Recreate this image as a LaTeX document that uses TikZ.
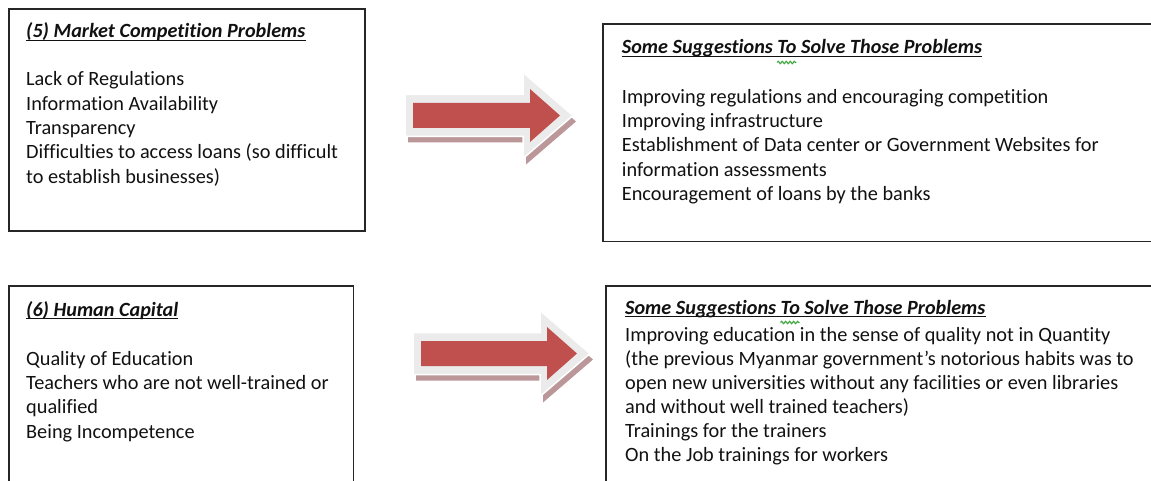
\documentclass[tikz,border=0pt]{standalone}
\usepackage{fontspec}
\setmainfont{Carlito}[Ligatures=NoCommon]
\usetikzlibrary{decorations.pathmorphing}

\definecolor{arrowred}{HTML}{C0504D}
\definecolor{arrowrim}{HTML}{EBEBEB}
\definecolor{arrowshadow}{HTML}{BC9799}
\definecolor{boxline}{HTML}{262626}
\definecolor{inktext}{HTML}{111111}
\definecolor{grammarmark}{HTML}{3FA83F}

\newcommand\headfont{\fontsize{20.2}{24.4}\selectfont\bfseries\itshape}
\newcommand\bodyfont{\fontsize{20.3}{24.4}\selectfont}
\newcommand\tightbodyfont{\fontsize{20.3}{23.9}\selectfont}

% offset and width of the word "To" inside the suggestion headings
\newlength\sqstart
\newlength\sqend
\AtBeginDocument{%
  \settowidth{\sqstart}{\headfont Some Suggestions }%
  \settowidth{\sqend}{\headfont Some Suggestions To}%
}

\tikzset{
  panel/.style={draw=boxline, line width=1.6pt, anchor=north west, inner sep=0pt},
  heading/.style={anchor=base west, inner sep=0pt, text=inktext, font=\headfont},
  body/.style={anchor=north west, inner sep=0pt, align=left, text=inktext, font=\bodyfont},
  headrule/.style={draw=inktext, line width=1.3pt},
  squiggle/.style={draw=grammarmark, line width=1.1pt, line join=round, decorate,
    decoration={zigzag, amplitude=1.4pt, segment length=4pt}},
  % block arrow: origin at the left end of the red shaft, #1 = shaft length
  pics/blockarrow/.style={code={
    \begin{scope}[shift={(3,6)}]
      \fill[arrowshadow] (-8,-21) -- ({#1-7},-21) -- ({#1-7},-43) -- ({#1+43},0)
        -- ({#1-7},43) -- ({#1-7},21) -- (-8,21) -- cycle;
    \end{scope}
    \filldraw[fill=arrowrim, draw=white, line width=1.5pt]
      (-8,-21) -- ({#1-7},-21) -- ({#1-7},-43) -- ({#1+43},0)
      -- ({#1-7},43) -- ({#1-7},21) -- (-8,21) -- cycle;
    \fill[arrowred] (0,-12.5) -- (#1,-12.5) -- (#1,-26.5) -- ({#1+30},0)
      -- (#1,26.5) -- (#1,12.5) -- (0,12.5) -- cycle;
  }}
}

\begin{document}
\begin{tikzpicture}[x=1pt, y=-1pt]
  \useasboundingbox (0,0) rectangle (1151,481);
  \clip (0,0) rectangle (1151,481);

  % ---- frames
  \node[panel, minimum width=356, minimum height=222] (prob5) at (8,8) {};
  \node[panel, minimum width=560, minimum height=217] (sug5) at (602,23.5) {};
  \node[panel, minimum width=344.5, minimum height=230] (prob6) at (8,285) {};
  \node[panel, minimum width=560, minimum height=230] (sug6) at (605,285) {};

  % ---- (5) market competition
  \node[heading] (prob5t) at (26,38) {(5) Market Competition Problems};
  \draw[headrule] ([yshift=-2.7pt]prob5t.base west) -- ([yshift=-2.7pt]prob5t.base east);
  \node[body] (prob5b) at (26,68.4) {\strut Lack of Regulations\\Information Availability\\Transparency\\Difficulties to access loans (so difficult\\to establish businesses)};

  \node[heading] (sug5t) at (621.7,54) {Some Suggestions To Solve Those Problems};
  \draw[headrule] ([yshift=-2.7pt]sug5t.base west) -- ([yshift=-2.7pt]sug5t.base east);
  \coordinate (sq5a) at ([xshift=\the\sqstart, yshift=-8.5pt]sug5t.base west);
  \coordinate (sq5b) at ([xshift=\the\sqend, yshift=-8.5pt]sug5t.base west);
  \draw[squiggle] (sq5a) -- (sq5b);
  \node[body] (sug5b) at (621.7,85.9) {\strut Improving regulations and encouraging competition\\Improving infrastructure\\Establishment of Data center or Government Websites for\\information assessments\\Encouragement of loans by the banks};

  % ---- (6) human capital
  \node[heading] (prob6t) at (26,316) {(6) Human Capital};
  \draw[headrule] ([yshift=-2.7pt]prob6t.base west) -- ([yshift=-2.7pt]prob6t.base east);
  \node[body] (prob6b) at (26,347.9) {\strut Quality of Education\\Teachers who are not well-trained or\\qualified\\Being Incompetence};

  \node[heading] (sug6t) at (625,314) {Some Suggestions To Solve Those Problems};
  \draw[headrule] ([yshift=-2.7pt]sug6t.base west) -- ([yshift=-2.7pt]sug6t.base east);
  \coordinate (sq6a) at ([xshift=\the\sqstart, yshift=-8.5pt]sug6t.base west);
  \coordinate (sq6b) at ([xshift=\the\sqend, yshift=-8.5pt]sug6t.base west);
  \draw[squiggle] (sq6a) -- (sq6b);
  \node[body, font=\tightbodyfont] (sug6b) at (625,324.8) {\strut Improving education in the sense of quality not in Quantity\\(the previous Myanmar government’s notorious habits was to\\open new universities without any facilities or even libraries\\and without well trained teachers)\\Trainings for the trainers\\On the Job trainings for workers};

  % ---- block arrows between problems and suggestions
  \pic (arrow5) at (413,115.5) {blockarrow=117};
  \pic (arrow6) at (421,353.5) {blockarrow=126};
\end{tikzpicture}
\end{document}
